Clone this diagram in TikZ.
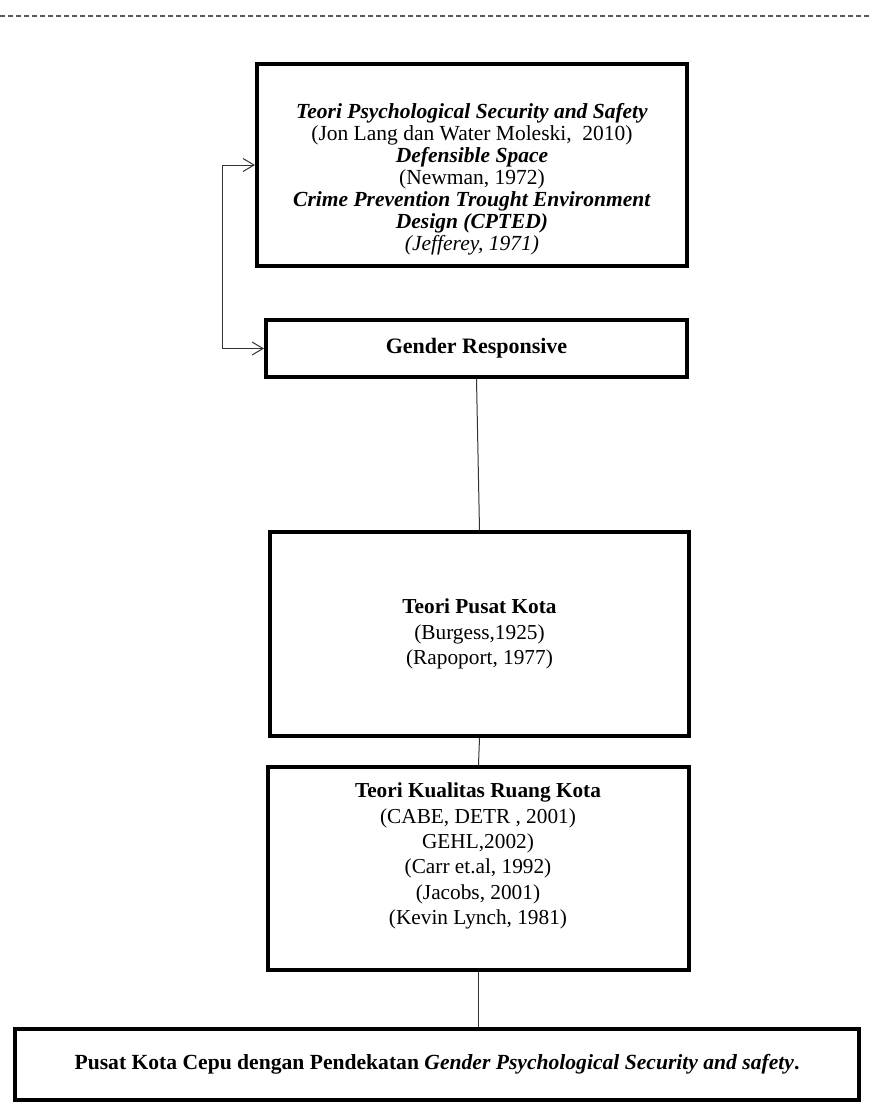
\documentclass[tikz,border=0pt]{standalone}
\usepackage{fontspec}
\setmainfont{Liberation Serif}
\usetikzlibrary{arrows.meta}
\begin{document}
\begin{tikzpicture}[x=1pt,y=-1pt,
  box/.style={draw=black,line width=4pt,fill=white,inner sep=0pt,align=center},
  txt/.style={align=center,inner sep=0pt},
  link/.style={draw=black!80,line width=1pt},
  barb/.style={link,{Straight Barb[length=11pt,width=13pt]}-{Straight Barb[length=11pt,width=13pt]}}]
\useasboundingbox (0,0) rectangle (869,1119);

% dashed rule along the top
\draw[black!65,line width=1.3pt,dash pattern=on 5pt off 3pt] (0,16) -- (869,16);

% theory box
\node[box,minimum width=430pt,minimum height=202pt] (theory) at (472,165) {};
\node[txt,font=\fontsize{21.5}{22}\selectfont] (theorytext) at (472,179)
  {\textbf{\textit{Teori Psychological Security and Safety}}\\
   (Jon Lang dan Water Moleski,\ \ 2010)\\
   \textbf{\textit{Defensible Space}}\\
   (Newman, 1972)\\
   \textbf{\textit{Crime Prevention Trought Environment}}\\
   \textbf{\textit{Design (CPTED)}}\\
   \textit{(Jefferey, 1971)}};

% gender responsive
\node[box,minimum width=421pt,minimum height=57pt,font=\bfseries\fontsize{22}{25}\selectfont]
  (gender) at (476.5,348.5) {Gender Responsive};

% city centre theory
\node[box,minimum width=419pt,minimum height=204pt,font=\fontsize{21.3}{25.3}\selectfont]
  (pusat) at (479.5,634) {\textbf{Teori Pusat Kota}\\(Burgess,1925)\\(Rapoport, 1977)};

% urban space quality theory
\node[box,minimum width=421pt,minimum height=203pt] (kualitas) at (478.5,868.5) {};
\node[txt,font=\fontsize{21.3}{25.3}\selectfont] (kualitastext) at (478,856)
  {\textbf{Teori Kualitas Ruang Kota}\\
   (CABE, DETR , 2001)\\
   GEHL,2002)\\
   (Carr et.al, 1992)\\
   (Jacobs, 2001)\\
   (Kevin Lynch, 1981)};

% result
\node[box,minimum width=844pt,minimum height=71pt,font=\bfseries\fontsize{21.6}{26}\selectfont]
  (hasil) at (437,1064.5)
  {Pusat Kota Cepu dengan Pendekatan \textit{Gender Psychological Security and safety}.};

% connectors
\draw[barb] (theory.west) -- ++(-33,0) |- (gender.west);
\draw[link] (gender.south) -- (pusat.north);
\draw[link] (pusat.south) -- (kualitas.north);
\draw[link] (kualitas.south) -- (hasil.north -| kualitas.south);
\end{tikzpicture}
\end{document}
